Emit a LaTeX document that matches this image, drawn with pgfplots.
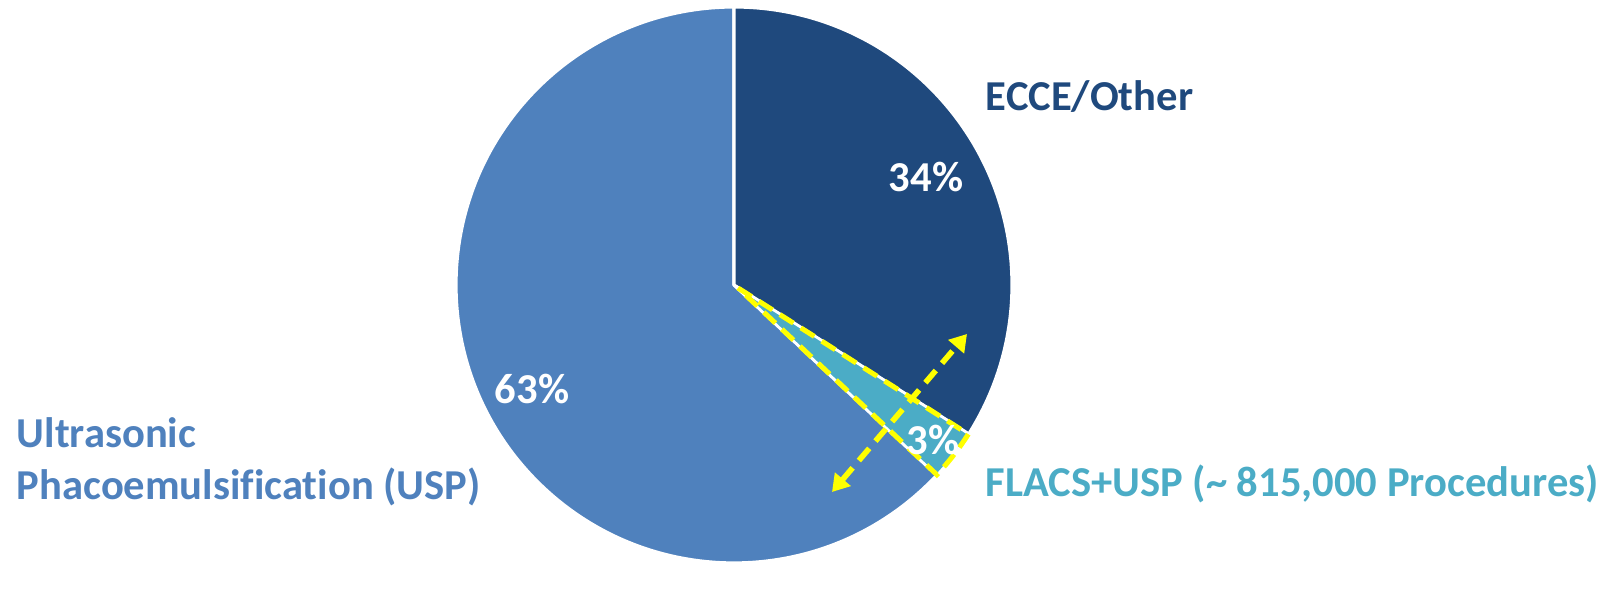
\documentclass[border=0pt]{standalone}
\usepackage{pgfplots}
\pgfplotsset{compat=1.18}
\usetikzlibrary{arrows.meta}
\usepackage{fontspec}
\setmainfont[Ligatures={NoCommon}]{Carlito}
\definecolor{ecce}{RGB}{31,73,125}
\definecolor{usp}{RGB}{79,129,189}
\definecolor{flacs}{RGB}{75,172,198}
\definecolor{hiyel}{RGB}{255,255,0}

% shares in percent
\def\pECCE{34}
\def\pFLACS{3}
\def\pUSP{63}
\def\R{69.5bp}

\begin{document}
\begin{tikzpicture}
  \begin{axis}[
    width=403.5bp, height=141.25bp,
    scale only axis,
    xmin=0, xmax=1614, ymin=0, ymax=565,
    y dir=reverse,
    hide axis, clip=false,
  ]
    \path (axis cs:0,0) rectangle (axis cs:1614,565);
    % slices, clockwise from 12 o'clock
    \pgfmathsetmacro\aA{90}
    \pgfmathsetmacro\aB{90-3.6*\pECCE}
    \pgfmathsetmacro\aC{\aB-3.6*\pFLACS}
    \pgfmathsetmacro\aD{\aC-3.6*\pUSP}
    \filldraw[fill=usp, draw=white, line width=0.8bp, line join=round]
      (axis cs:734,285) -- ++(\aC:\R) arc[start angle=\aC, end angle=\aD, radius=\R] -- cycle;
    \filldraw[fill=ecce, draw=white, line width=0.8bp, line join=round]
      (axis cs:734,285) -- ++(\aA:\R) arc[start angle=\aA, end angle=\aB, radius=\R] -- cycle;
    \filldraw[fill=flacs, draw=white, line width=0.6bp, line join=round]
      (axis cs:734,285) -- ++(\aB:\R) arc[start angle=\aB, end angle=\aC, radius=\R] -- cycle;
    % yellow highlight of the FLACS slice
    \draw[hiyel, line width=1.25bp, dash pattern=on 4bp off 2.2bp, line join=miter]
      (axis cs:738,288) -- ++(\aB:68.2bp) arc[start angle=\aB, end angle=\aC, radius=68.2bp] -- cycle;
    \draw[hiyel, line width=1.4bp, dash pattern=on 4bp off 2.4bp,
      {Triangle[length=4.2bp,width=5bp]}-{Triangle[length=4.2bp,width=5bp]}]
      (axis cs:832,492) -- (axis cs:967,334);
    % labels
    \tikzset{lab/.style={font=\fontsize{10.65bp}{13bp}\selectfont\bfseries, inner sep=0pt}}
    \node[lab, text=white] at (axis cs:926,177) {34\%};
    \node[lab, text=white] at (axis cs:532,389) {63\%};
    \node[lab, text=white] at (axis cs:933,440) {3\%};
    \node[lab, text=ecce, anchor=base west] at (axis cs:985,111) {ECCE/Other};
    \node[lab, text=flacs, anchor=base west] at (axis cs:985,497) {FLACS+USP (\textasciitilde{} 815,000 Procedures)};
    \node[lab, text=usp, anchor=base west] at (axis cs:16,448) {Ultrasonic};
    \node[lab, text=usp, anchor=base west] at (axis cs:16,500) {Phacoemulsification (USP)};
  \end{axis}
\end{tikzpicture}
\end{document}
